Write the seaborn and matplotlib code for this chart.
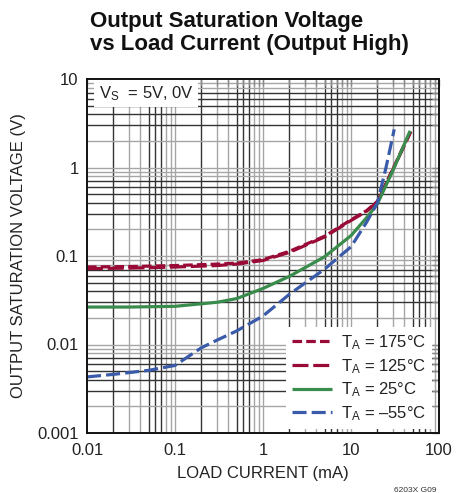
import numpy as np
import pandas as pd
import matplotlib
matplotlib.use("Agg")
import matplotlib.pyplot as plt
from matplotlib import font_manager
from matplotlib.ticker import FixedLocator, NullFormatter, FixedFormatter
import seaborn as sns

# Output saturation voltage (V) versus load current (mA), per ambient temperature
current_175 = [0.01, 0.03, 0.1, 0.3, 0.5, 1, 2, 5, 10, 15, 20, 30, 48]
vsat_175 = [0.075, 0.076, 0.078, 0.081, 0.083, 0.091, 0.113, 0.167, 0.256, 0.325, 0.415, 0.97, 2.6]

current_125 = [0.01, 0.03, 0.1, 0.3, 0.5, 1, 2, 5, 10, 15, 20, 30, 48]
vsat_125 = [0.072, 0.073, 0.075, 0.078, 0.081, 0.089, 0.110, 0.164, 0.252, 0.32, 0.41, 0.95, 2.55]

current_25 = [0.01, 0.03, 0.1, 0.3, 0.5, 1, 2, 5, 10, 15, 20, 30, 47]
vsat_25 = [0.0265, 0.0265, 0.027, 0.030, 0.033, 0.043, 0.059, 0.098, 0.17, 0.27, 0.39, 0.93, 2.6]

current_m55 = [0.01, 0.02, 0.05, 0.1, 0.2, 0.3, 0.5, 1, 2, 5, 10, 15, 20, 25, 31]
vsat_m55 = [0.0043, 0.0046, 0.0051, 0.0058, 0.0092, 0.0112, 0.0142, 0.021, 0.037, 0.071, 0.127, 0.24, 0.40, 1.0, 2.7]

series_labels = [r"T$_\mathregular{A}$ = 175°C", r"T$_\mathregular{A}$ = 125°C",
                 r"T$_\mathregular{A}$ = 25°C", r"T$_\mathregular{A}$ = –55°C"]
series_colors = ["#9a0a36", "#9a0a36", "#3a8c4c", "#3a5aaa"]
series_dashes = [(3.0, 1.3), (5.0, 1.5), None, (4.4, 1.6)]

x_ticks = [0.01, 0.1, 1, 10, 100]
x_tick_labels = ["0.01", "0.1", "1", "10", "100"]
y_ticks = [0.001, 0.01, 0.1, 1, 10]
y_tick_labels = ["0.001", "0.01", "0.1", "1", "10"]

sns.set_style("white")
installed = {f.name for f in font_manager.fontManager.ttflist}
narrow = "Liberation Sans Narrow" if "Liberation Sans Narrow" in installed else "Liberation Sans"
plt.rcParams["font.family"] = [narrow, "DejaVu Sans"]
plt.rcParams["mathtext.fontset"] = "custom"
plt.rcParams["mathtext.rm"] = narrow
plt.rcParams["mathtext.it"] = narrow
plt.rcParams["mathtext.bf"] = narrow + ":bold"

fig = plt.figure(figsize=(4.67, 4.93), dpi=100)
ax = fig.add_axes([87 / 467, 1 - 433 / 493, 352 / 467, 354 / 493])
ax.set_xscale("log")
ax.set_yscale("log")
ax.set_xlim(0.01, 100)
ax.set_ylim(0.001, 10)

# log grid: each decade line plus the 2..9 subdivisions, in two shades
dark, light = "#333333", "#a6a6a6"
for exp in range(-2, 2):
    for m in range(1, 10):
        v = m * 10.0 ** exp
        if v <= 0.01:
            continue
        c = dark if m in (2, 5, 6, 7) else light
        ax.axvline(v, color=c, lw=1.0, zorder=0.5)
for exp in range(-3, 1):
    for m in range(1, 10):
        v = m * 10.0 ** exp
        if v <= 0.001:
            continue
        c = dark if m in (3, 4, 5, 6, 7) else light
        ax.axhline(v, color=c, lw=1.0, zorder=0.5)

all_x = [current_175, current_125, current_25, current_m55]
all_y = [vsat_175, vsat_125, vsat_25, vsat_m55]
handles = []
for xs, ys, lab, col, dsh in zip(all_x, all_y, series_labels, series_colors, series_dashes):
    sns.lineplot(x=xs, y=ys, ax=ax, color=col, lw=2.3, estimator=None, sort=False, zorder=3)
    line = ax.lines[-1]
    if dsh is not None:
        line.set_dashes(dsh)
    line.set_solid_capstyle("butt")
    line.set_dash_capstyle("butt")
    handles.append(line)

ax.xaxis.set_major_locator(FixedLocator(x_ticks))
ax.xaxis.set_major_formatter(FixedFormatter(x_tick_labels))
ax.yaxis.set_major_locator(FixedLocator(y_ticks))
ax.yaxis.set_major_formatter(FixedFormatter(y_tick_labels))
ax.xaxis.set_minor_formatter(NullFormatter())
ax.yaxis.set_minor_formatter(NullFormatter())
ax.tick_params(which="both", direction="in", top=True, right=True, length=5,
               width=1, color="#8a8a8a", labelsize=12, labelcolor="#222222")
ax.tick_params(axis="x", which="major", pad=7)
ax.tick_params(axis="y", which="major", pad=6)

for s in ax.spines.values():
    s.set_color("#111111")
    s.set_linewidth(1.4)
    s.set_zorder(4)

ax.set_xlabel("LOAD CURRENT (mA)", fontsize=12, color="#222222", labelpad=6)
ax.set_ylabel("OUTPUT SATURATION VOLTAGE (V)", fontsize=12, color="#222222", labelpad=8)

leg = ax.legend(handles, series_labels, loc="lower left", bbox_to_anchor=(0.565, 0.012),
                frameon=True, fancybox=False, framealpha=1, facecolor="white",
                edgecolor="none", fontsize=12, handlelength=2.4, handletextpad=0.55,
                labelspacing=0.3, borderpad=0.35, borderaxespad=0)
leg.set_zorder(5)
for t in leg.get_texts():
    t.set_color("#222222")

ax.text(0.033, 0.985, r"V$_\mathregular{S}$  = 5V, 0V", transform=ax.transAxes,
        ha="left", va="top", fontsize=12, color="#222222", zorder=5,
        bbox=dict(boxstyle="square,pad=0.25", fc="white", ec="none"))

fig.text(90 / 467, 1 - 11 / 493, "Output Saturation Voltage\nvs Load Current (Output High)",
         ha="left", va="top", fontsize=16, fontweight="bold", color="#111111",
         linespacing=1.15)

fig.text(415 / 467, 1 - 487 / 493, "6203X G09", ha="center", va="top",
         fontsize=6, color="#333333")

fig.savefig("out.png", dpi=100, facecolor="white")
